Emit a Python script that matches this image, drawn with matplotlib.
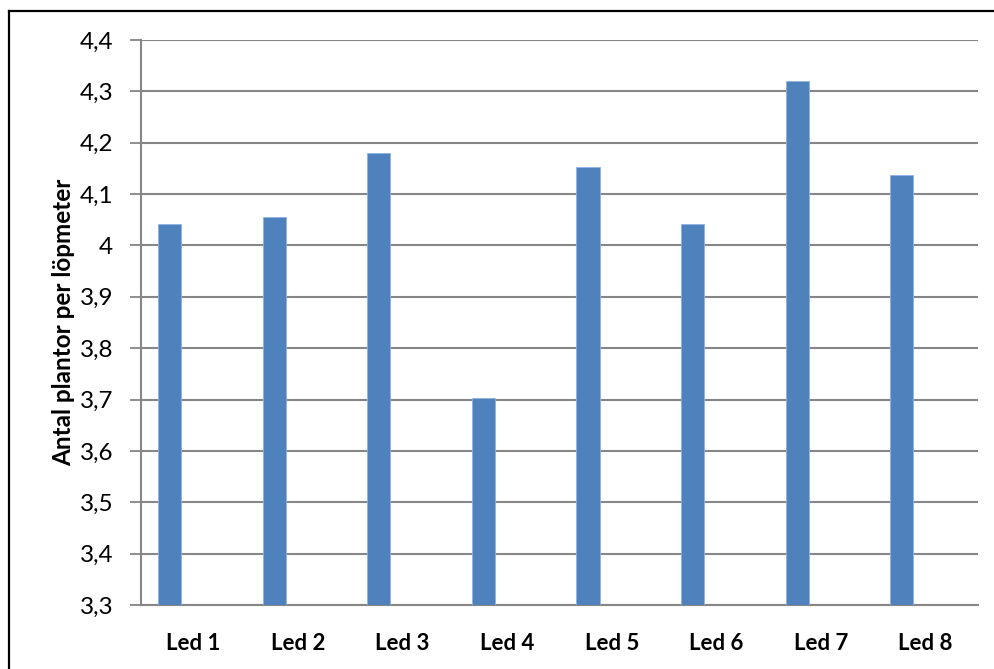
import matplotlib.pyplot as plt
import numpy as np
from matplotlib.lines import Line2D

# data
categories = ['Led 1', 'Led 2', 'Led 3', 'Led 4', 'Led 5', 'Led 6', 'Led 7', 'Led 8']
values = [4.042, 4.055, 4.180, 3.703, 4.153, 4.042, 4.320, 4.138]
yticks = [3.3, 3.4, 3.5, 3.6, 3.7, 3.8, 3.9, 4.0, 4.1, 4.2, 4.3, 4.4]
ytick_labels = ['3,3', '3,4', '3,5', '3,6', '3,7', '3,8', '3,9', '4', '4,1', '4,2', '4,3', '4,4']

plt.rcParams['font.family'] = ['Lato', 'DejaVu Sans']

fig = plt.figure(figsize=(9.95, 6.69), dpi=100)
ax = fig.add_axes([0.1417, 0.0957, 0.8412, 0.8445])

grid_col = '#868686'
x = np.arange(len(categories))
# excel-style: first of three series slots, only one drawn
ax.bar(x - 0.2275, values, width=0.22, bottom=0, color='#4F81BD',
       edgecolor='#8DB3E2', linewidth=0.6, zorder=3)

ax.set_xlim(-0.5, len(categories) - 0.5)
ax.set_ylim(3.3, 4.4)
ax.set_yticks(yticks)
ax.set_yticklabels(ytick_labels, fontsize=17.5)
ax.set_xticks(x)
ax.set_xticklabels(categories, fontsize=16, fontweight='bold')
ax.tick_params(axis='x', length=0, pad=20)
ax.tick_params(axis='y', length=8, width=1.3, color=grid_col, pad=12)

ax.yaxis.grid(True, color=grid_col, linewidth=1.5, zorder=0)
for s in ['top', 'right']:
    ax.spines[s].set_visible(False)
for s in ['left', 'bottom']:
    ax.spines[s].set_color(grid_col)
    ax.spines[s].set_linewidth(1.5)

ax.set_ylabel('Antal plantor per löpmeter', fontsize=17.5, fontweight='bold', labelpad=3)

# outer chart border (only top and left visible)
fig.add_artist(Line2D([9 / 995, 1.0], [1 - 10.5 / 669, 1 - 10.5 / 669],
                      transform=fig.transFigure, color='black', linewidth=1.6))
fig.add_artist(Line2D([9 / 995, 9 / 995], [0, 1 - 10.5 / 669],
                      transform=fig.transFigure, color='black', linewidth=1.6))

fig.savefig('out.png', dpi=100)
